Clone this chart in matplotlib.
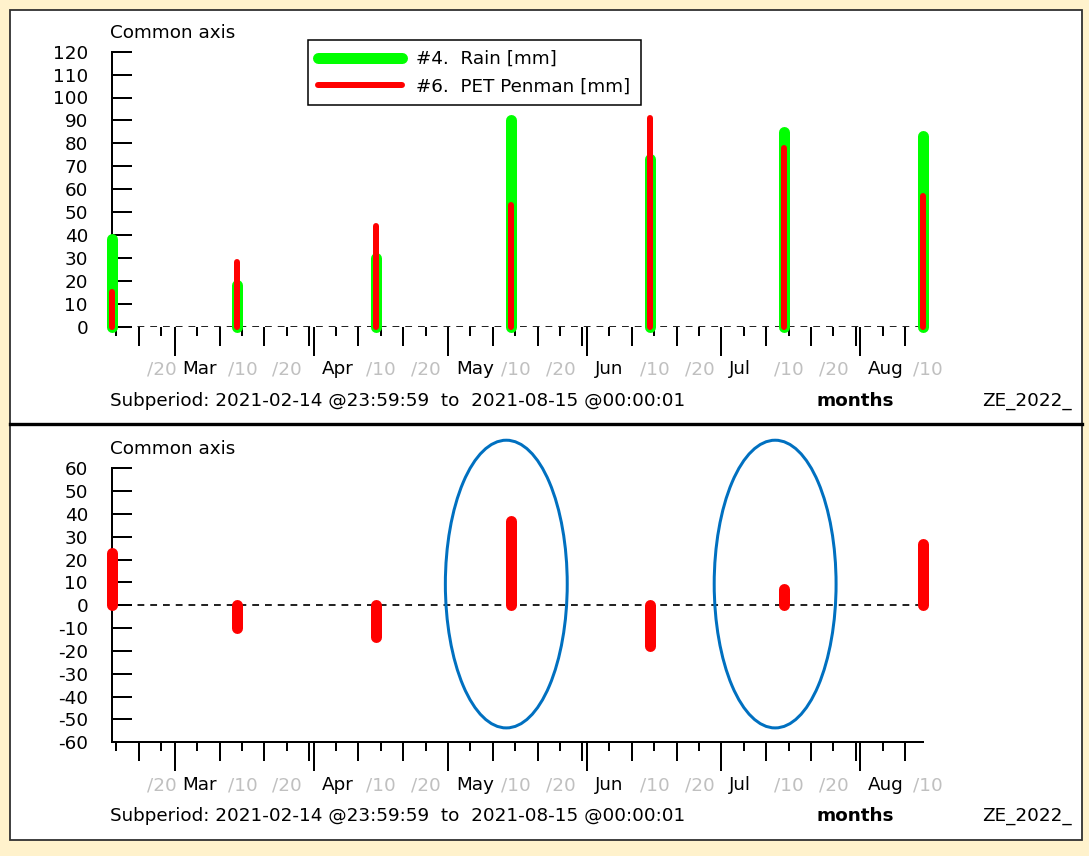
import numpy as np
import pandas as pd
import matplotlib
matplotlib.use('Agg')
import matplotlib.pyplot as plt
import matplotlib.dates as mdates
from matplotlib.patches import Rectangle, Ellipse
from matplotlib.lines import Line2D

# Datos mensuales (valor dibujado el dia 15 de cada mes)
fechas = ['2021-02-15', '2021-03-15', '2021-04-15', '2021-05-15',
          '2021-06-15', '2021-07-15', '2021-08-15']
lluvia = [38, 18, 30, 90, 73, 85, 83]       # #4. Rain [mm]
pet = [15, 28, 44, 53, 91, 78, 57]          # #6. PET Penman [mm]
balance = [23, -10, -14, 37, -18, 7, 27]    # Rain - PET
resaltar = ['2021-05-14', '2021-07-13']     # elipses azules

serie_lluvia = '#4.  Rain [mm]'
serie_pet = '#6.  PET Penman [mm]'
subperiodo = 'Subperiod: 2021-02-14 @23:59:59  to  2021-08-15 @00:00:01'
inicio, fin = '2021-02-15', '2021-08-15'

plt.rcParams['axes.unicode_minus'] = False

W, H = 1089, 856
FS = 13.2
GRIS = '#c0c0c0'
VERDE = '#00ff00'
ROJO = '#ff0000'
PX = 0.72  # 1 px en puntos (dpi=100)


def fx(x):
    return x / W


def fy(y):
    return 1 - y / H


def eje_tiempo(ax, alto_px):
    meses = pd.date_range('2021-02-01', '2021-09-01', freq='MS')
    largos, medios, cortos, etiquetas = [], [], [], []
    for m0, m1 in zip(meses[:-1], meses[1:]):
        largos.append(m0)
        etiquetas.append((m0, m0.strftime('%b'), 'black'))
        for d in (10, 20, 30):
            t = m0 + pd.Timedelta(days=d)
            if t < m1:
                medios.append(t)
            if d < 30:
                etiquetas.append((t, '/%d' % d, GRIS))
        for d in (5, 15, 25):
            cortos.append(m0 + pd.Timedelta(days=d))

    t0, t1 = pd.Timestamp(inicio), pd.Timestamp(fin)
    cortos = [t for t in cortos if t0 <= t <= t1]

    ax.set_xticks(largos)
    ax.set_xticks(medios, minor=True)
    ax.set_xticklabels([])
    ax.tick_params(axis='x', which='major', direction='out', length=29 * PX,
                   width=2 * PX, color='black')
    ax.tick_params(axis='x', which='minor', direction='out', length=19 * PX,
                   width=2 * PX, color='black')
    ax.vlines(cortos, 0, -9 / alto_px, transform=ax.get_xaxis_transform(),
              colors='black', linewidth=2 * PX, clip_on=False)
    # set_xticks amplia los limites: fijarlos al final
    ax.set_xlim(t0, t1)

    for t, txt, c in etiquetas:
        if t0 <= t <= t1:
            ax.annotate(txt, xy=(mdates.date2num(t), 0),
                        xycoords=ax.get_xaxis_transform(),
                        xytext=(8, -43), textcoords='offset pixels',
                        ha='left', va='center', color=c, fontsize=FS,
                        annotation_clip=False)

    ax.annotate(subperiodo, xy=(0, 0), xycoords='axes fraction',
                xytext=(-2, -74), textcoords='offset pixels',
                ha='left', va='center', fontsize=FS)
    ax.annotate('months', xy=(0, 0), xycoords='axes fraction',
                xytext=(743, -74), textcoords='offset pixels',
                ha='center', va='center', fontsize=FS, fontweight='bold')
    ax.annotate('ZE_2022_', xy=(0, 0), xycoords='axes fraction',
                xytext=(870, -74), textcoords='offset pixels',
                ha='left', va='center', fontsize=FS)
    ax.annotate('Common axis', xy=(0, 1), xycoords='axes fraction',
                xytext=(-2, 19), textcoords='offset pixels',
                ha='left', va='center', fontsize=FS)


def eje_y(ax, ymin, ymax):
    ax.set_ylim(ymin, ymax)
    ax.set_yticks(np.arange(ymin, ymax + 1, 10))
    ax.tick_params(axis='y', direction='in', length=20 * PX, width=2 * PX,
                   pad=24 * PX, labelsize=FS, color='black')
    ax.spines['left'].set_linewidth(2 * PX)
    for s in ('top', 'right'):
        ax.spines[s].set_visible(False)
    ax.set_facecolor('none')
    ax.axhline(0, color='black', linewidth=1.7 * PX,
               linestyle=(0, (4, 3.5)), zorder=1)


fig = plt.figure(figsize=(W / 100, H / 100), dpi=100, facecolor='#fff2cc')

# Paneles blancos con borde
fig.add_artist(Rectangle((fx(10), fy(840)), fx(1072), 830 / H,
                         transform=fig.transFigure, facecolor='white',
                         edgecolor='#303030', linewidth=1.3, zorder=-5))
fig.add_artist(Line2D([fx(10), fx(1082)], [fy(424), fy(424)],
                      transform=fig.transFigure, color='black',
                      linewidth=2.4, zorder=-4))

alto_sup = 326.5 - 51.7
alto_inf = 742.3 - 468.3
ax1 = fig.add_axes([fx(112), fy(326.5), 811 / W, alto_sup / H])
ax2 = fig.add_axes([fx(112), fy(742.3), 811 / W, alto_inf / H])

x = pd.to_datetime(fechas)

# ---- Grafico superior: lluvia y PET ----
eje_y(ax1, 0, 120)
ax1.spines['bottom'].set_visible(False)
ax1.vlines(x, 0, lluvia, colors=VERDE, linewidth=11 * PX, capstyle='round',
           zorder=3, clip_on=False)
ax1.vlines(x, 0, pet, colors=ROJO, linewidth=6 * PX, capstyle='round',
           zorder=4, clip_on=False)
eje_tiempo(ax1, alto_sup)

h1 = Line2D([], [], color=VERDE, linewidth=11 * PX, solid_capstyle='round')
h2 = Line2D([], [], color=ROJO, linewidth=6 * PX, solid_capstyle='round')
leg = ax1.legend([h1, h2], [serie_lluvia, serie_pet], loc='upper left',
                 bbox_to_anchor=(fx(308), fy(40)),
                 bbox_transform=fig.transFigure, borderaxespad=0,
                 fontsize=FS, handlelength=4.6, handletextpad=0.75,
                 borderpad=0.55, labelspacing=0.5, fancybox=False,
                 framealpha=1, edgecolor='black')
leg.get_frame().set_linewidth(1.1)
leg.set_zorder(10)

# ---- Grafico inferior: balance ----
eje_y(ax2, -60, 60)
ax2.spines['bottom'].set_linewidth(2 * PX)
ax2.vlines(x, 0, balance, colors=ROJO, linewidth=11 * PX, capstyle='round',
           zorder=3, clip_on=False)
eje_tiempo(ax2, alto_inf)

for f in resaltar:
    ax2.add_patch(Ellipse((mdates.date2num(pd.Timestamp(f)), 9.3),
                          width=27.2, height=126, fill=False,
                          edgecolor='#0070c0', linewidth=3 * PX,
                          clip_on=False, zorder=6))

fig.savefig('out.png', dpi=100, facecolor=fig.get_facecolor())
